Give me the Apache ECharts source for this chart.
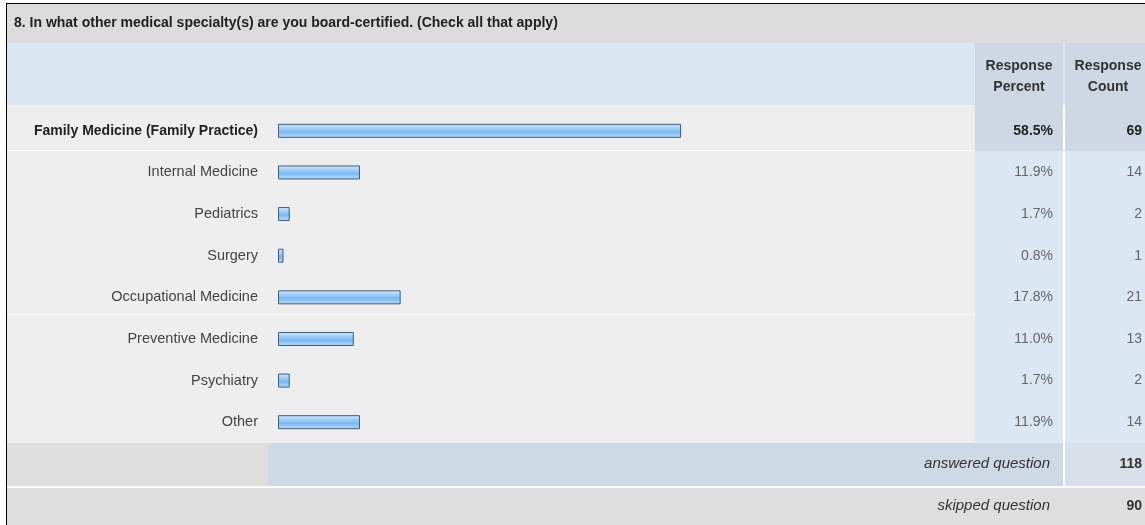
<!DOCTYPE html>
<html>
<head>
<meta charset="utf-8">
<script src="https://cdn.jsdelivr.net/npm/echarts@6/dist/echarts.min.js"></script>
<style>
  html, body { margin: 0; padding: 0; background: #fff; }
  #chart { width: 1145px; height: 525px; }
</style>
</head>
<body>
<div id="chart"></div>
<script>
// survey data
var questionTitle = '8. In what other medical specialty(s) are you board-certified. (Check all that apply)'
var categories = ['Family Medicine (Family Practice)', 'Internal Medicine', 'Pediatrics', 'Surgery',
  'Occupational Medicine', 'Preventive Medicine', 'Psychiatry', 'Other']
var percents = [58.5, 11.9, 1.7, 0.8, 17.8, 11.0, 1.7, 11.9]
var counts = [69, 14, 2, 1, 21, 13, 2, 14]
var answeredCount = 118
var skippedCount = 90

var font = 'Liberation Sans, Arial, sans-serif'
var barFill = new echarts.graphic.LinearGradient(0, 0, 0, 1, [
  { offset: 0, color: '#d4e9fd' },
  { offset: 0.45, color: '#8cc3f5' },
  { offset: 0.6, color: '#7db8f0' },
  { offset: 1, color: '#bfe0fc' }
])

function rect(x, y, w, h, color) {
  return { type: 'rect', z: -10, silent: true, shape: { x: x, y: y, width: w, height: h }, style: { fill: color } }
}
function txt(x, y, text, opts) {
  return {
    type: 'text', x: x, y: y, z: 10, silent: true,
    style: Object.assign({ text: text, font: '14px ' + font, fill: '#333', align: 'left', verticalAlign: 'middle' }, opts || {})
  }
}

var bg = [
  rect(6, 3, 1139, 1, '#000'),
  rect(6, 3, 1, 522, '#000'),
  rect(7, 4, 1138, 39, '#dcdcdc'),
  rect(7, 43, 1138, 62, '#dce7f4'),
  rect(975, 43, 88, 62, '#cdd8e4'),
  rect(1065, 43, 80, 62, '#cdd8e4'),
  rect(7, 105, 968, 338, '#eeeeee'),
  rect(975, 105, 88, 46, '#cdd8e4'),
  rect(1065, 105, 80, 46, '#cdd8e4'),
  rect(975, 151, 88, 292, '#dce7f4'),
  rect(1065, 151, 80, 292, '#dce7f4'),
  rect(7, 150, 966, 1, '#fafafa'),
  rect(7, 314, 966, 1, '#fafafa'),
  rect(7, 443, 261, 43, '#dedede'),
  rect(268, 443, 795, 43, '#cdd9e5'),
  rect(1065, 443, 80, 43, '#d8e0e9'),
  rect(7, 486, 1138, 2, '#fbfbfb'),
  rect(7, 488, 1138, 37, '#dedede'),
  txt(14, 23, questionTitle, { font: 'bold 14px ' + font, fill: '#222' }),
  txt(1019, 66, 'Response', { font: 'bold 14px ' + font, align: 'center' }),
  txt(1019, 87, 'Percent', { font: 'bold 14px ' + font, align: 'center' }),
  txt(1108, 66, 'Response', { font: 'bold 14px ' + font, align: 'center' }),
  txt(1108, 87, 'Count', { font: 'bold 14px ' + font, align: 'center' }),
  txt(1050, 464, 'answered question', { font: 'italic 15px ' + font, align: 'right' }),
  txt(1142, 464, String(answeredCount), { font: 'bold 14px ' + font, align: 'right' }),
  txt(1050, 506, 'skipped question', { font: 'italic 15px ' + font, align: 'right' }),
  txt(1142, 506, String(skippedCount), { font: 'bold 14px ' + font, align: 'right' })
]

function rowLabel(list, normalColor, normalSize) {
  return {
    margin: 0,
    formatter: function (v) {
      return list.indexOf(v) === 0 ? '{b|' + v + '}' : '{n|' + v + '}'
    },
    rich: {
      b: { fontFamily: font, fontSize: 14, fontWeight: 'bold', color: '#222' },
      n: { fontFamily: font, fontSize: normalSize, color: normalColor }
    }
  }
}

var pctLabels = percents.map(function (p) { return p.toFixed(1) + '%' })
var cntLabels = counts.map(function (c) { return String(c) })

var myChart = echarts.init(document.getElementById('chart'))
var option = {
  animation: false,
  graphic: bg,
  grid: { left: 278, right: 178, top: 110, height: 333, containLabel: false },
  xAxis: { type: 'value', min: 0, max: 100, show: false },
  yAxis: [
    {
      type: 'category', data: categories, inverse: true,
      axisLine: { show: false }, axisTick: { show: false },
      axisLabel: Object.assign(rowLabel(categories, '#444', 14.5), { margin: 20 })
    },
    {
      type: 'category', data: pctLabels, inverse: true, position: 'right',
      axisLine: { show: false }, axisTick: { show: false },
      axisLabel: Object.assign(rowLabel(pctLabels, '#666', 14), { margin: 86, align: 'right' })
    },
    {
      type: 'category', data: cntLabels, inverse: true, position: 'right',
      axisLine: { show: false }, axisTick: { show: false },
      axisLabel: Object.assign(rowLabel(cntLabels, '#666', 14), { margin: 175, align: 'right' })
    }
  ],
  series: [{
    type: 'bar',
    data: percents,
    barWidth: 14,
    itemStyle: { color: barFill, borderColor: '#3f5d7e', borderWidth: 1 }
  }]
}
myChart.setOption(option)
window.onresize = function () {
  myChart.resize()
}
</script>
</body>
</html>
